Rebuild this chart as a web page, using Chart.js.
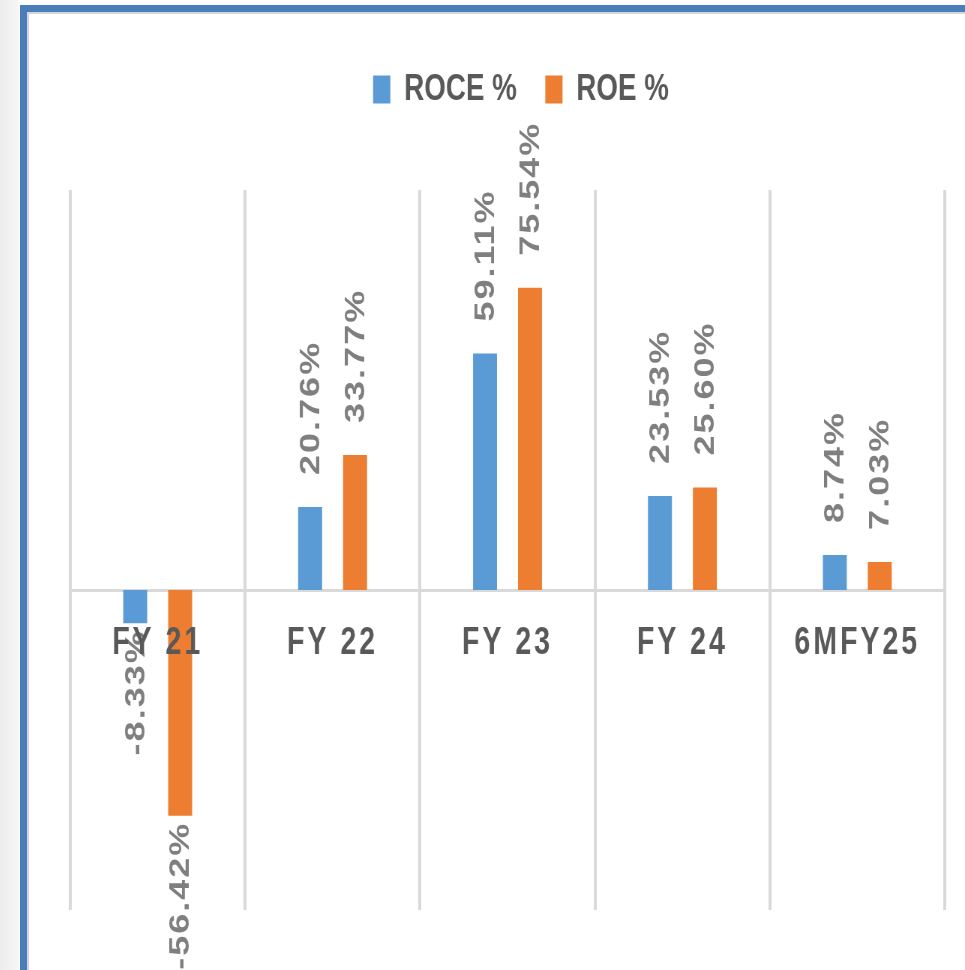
<!DOCTYPE html>
<html>
<head>
<meta charset="utf-8">
<script src="https://cdn.jsdelivr.net/npm/chart.js@4.4.1/dist/chart.umd.min.js"></script>
<style>
  html, body { margin: 0; padding: 0; background: #fff; }
  body { width: 965px; height: 970px; position: relative; overflow: hidden;
         background: linear-gradient(to right, #ececec 0px, #f6f6f6 18px, #fff 20px); }
  #frame { position: absolute; left: 20px; top: 5px; width: 960px; height: 962px;
           border-left: 7px solid #4a7dbb; border-top: 7px solid #4a7dbb;
           border-bottom: 3px solid #dcdcdc; background: #fff;
           box-shadow: inset 2px 2px 0 #d6d6d6; }
  #chart { position: absolute; left: 29px; top: 13px; }
</style>
</head>
<body>
<div id="frame"></div>
<canvas id="chart" width="1248" height="957" style="width: 936px; height: 957px;"></canvas>
<script>
const categories = ["FY 21", "FY 22", "FY 23", "FY 24", "6MFY25"];
const seriesNames = ["ROCE %", "ROE %"];
const roceValues = [-8.33, 20.76, 59.11, 23.53, 8.74];
const roeValues = [-56.42, 33.77, 75.54, 25.60, 7.03];

const blue = "#5b9bd5";
const orange = "#ed7d31";
const gridColor = "#d9d9d9";

// values written along the bars, rotated
const barLabels = {
  id: "barLabels",
  afterLayout(chart) {
    // legend centering leaves a trailing gap on the right, move it back
    chart.legend.left += 18;
    chart.legend.right += 18;
  },
  beforeDraw(chart) {
    chart.ctx.letterSpacing = "0px";
  },
  afterDatasetsDraw(chart) {
    const ctx = chart.ctx;
    chart.data.datasets.forEach((ds, di) => {
      chart.getDatasetMeta(di).data.forEach((bar, i) => {
        const v = ds.data[i];
        const text = v.toFixed(2) + "%";
        ctx.save();
        ctx.translate(bar.x, bar.y);
        ctx.rotate(-Math.PI / 2);
        ctx.font = "bold 36px 'Liberation Sans', Arial, sans-serif";
        ctx.letterSpacing = "2px";
        ctx.fillStyle = "#7f7f7f";
        ctx.textBaseline = "middle";
        if (v >= 0) {
          ctx.textAlign = "left";
          ctx.fillText(text, 32, 2);
        } else {
          ctx.textAlign = "right";
          ctx.fillText(text, -6, 2);
        }
        ctx.restore();
      });
    });
    // category labels are drawn after this, spaced out
    ctx.letterSpacing = "4px";
  },
  afterDraw(chart) {
    chart.ctx.letterSpacing = "0px";
  }
};

const ctx = document.getElementById("chart").getContext("2d");

new Chart(ctx, {
  type: "bar",
  data: {
    labels: categories,
    datasets: [
      {
        label: seriesNames[0],
        data: roceValues,
        backgroundColor: blue,
        borderWidth: 0,
        xAxisID: "x",
        yAxisID: "y",
        categoryPercentage: 0.514,
        barPercentage: 0.533,
      },
      {
        label: seriesNames[1],
        data: roeValues,
        backgroundColor: orange,
        borderWidth: 0,
        xAxisID: "x",
        yAxisID: "y",
        categoryPercentage: 0.514,
        barPercentage: 0.533,
      },
    ],
  },
  options: {
    responsive: false,
    animation: false,
    devicePixelRatio: 1,
    layout: { padding: { top: 20, left: 55, right: 27, bottom: 60 } },
    plugins: {
      tooltip: { enabled: false },
      legend: {
        position: "top",
        labels: {
          boxWidth: 23,
          boxHeight: 28,
          padding: 38,
          color: "#595959",
          font: { family: "'Liberation Sans', Arial, sans-serif", size: 37, weight: "bold" },
        },
      },
    },
    scales: {
      x: {
        type: "category",
        position: { y: 0 },
        offset: true,
        grid: { color: gridColor, lineWidth: 4, drawTicks: false, offset: true },
        border: { color: gridColor, width: 3 },
        ticks: {
          z: 1,
          padding: 31,
          autoSkip: false,
          maxRotation: 0,
          color: "#595959",
          font: { family: "'Liberation Sans', Arial, sans-serif", size: 38, weight: "bold" },
        },
      },
      gap: {
        type: "category",
        axis: "x",
        position: "top",
        grid: { display: false },
        border: { display: false },
        ticks: { display: false },
        afterFit(scale) { scale.height = 72; },
      },
      y: {
        display: false,
        min: -80,
        max: 100,
      },
    },
  },
  plugins: [barLabels],
});
</script>
</body>
</html>
